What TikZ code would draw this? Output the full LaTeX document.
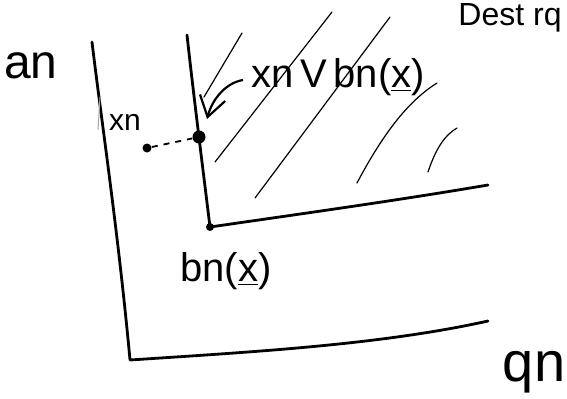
\documentclass[tikz,border=0pt]{standalone}
\usepackage{fontspec}
\setmainfont{Liberation Sans}
\usetikzlibrary{arrows.meta}
\begin{document}
\begin{tikzpicture}[x=0.5pt,y=-0.5pt,
  axis/.style={line width=1.4pt,line cap=round,line join=round},
  hatch/.style={line width=0.6pt,line cap=round},
  dotbig/.style={circle,fill=black,inner sep=0pt,minimum size=6.5pt},
  dotsmall/.style={circle,fill=black,inner sep=0pt,minimum size=4pt},
  lab/.style={inner sep=0pt,font=\fontsize{20}{22}\selectfont}]
\useasboundingbox (0,0) rectangle (567,398);
% outer axes
\coordinate (Otop) at (92,42);
\coordinate (O) at (130,360);
\coordinate (Oright) at (488,321);
\draw[axis] (Otop) .. controls (100,110) and (118,230) .. (O)
  .. controls (250,352) and (380,345) .. (Oright);
% inner corner
\coordinate (Btop) at (187,35);
\coordinate (Bright) at (488,185);
\node[dotsmall] (B) at (210,227) {};
\node[dotbig] (P) at (199,137) {};
\draw[axis] (Btop) .. controls (193,90) and (203,170) .. (B.center)
  .. controls (300,214) and (400,200) .. (Bright);
% hatch lines
\draw[hatch] (204,97) -- (242,33);
\draw[hatch] (215,162) -- (332,12);
\draw[hatch] (255,198) -- (390,17);
\draw[hatch] (357,183) .. controls (385,130) and (410,100) .. (437,83);
\draw[hatch] (428,172) .. controls (436,148) and (445,135) .. (457,128);
% faint mark
\draw[line width=0.5pt,gray!70] (100,97) -- (98,130);
% point x_n and dashed connector
\node[dotsmall,minimum size=4.5pt] (X) at (147,148) {};
\draw[line width=0.9pt,dash pattern=on 3pt off 3pt] (X) -- (P);
% arrow to x_n v b_n(x)
\coordinate (Astart) at (243,80);
\coordinate (Aend) at (207,119);
\draw[line width=1.1pt,-{Straight Barb[length=10pt,width=13pt,line width=1.1pt]}] (Astart) .. controls (225,83) and (212,100) .. (Aend);
% labels
\node[lab,font=\fontsize{24}{26}\selectfont] (an) at (31,66) {an};
\node[lab,font=\fontsize{15}{17}\selectfont] (xn) at (125,122) {xn};
\node[lab] (lab1) at (338,77) {xn\,V\,bn(\underline{x})};
\node[lab] (bn) at (226,271) {bn(\underline{x})};
\node[lab,font=\fontsize{28}{30}\selectfont] (qn) at (534,372) {qn};
\node[lab,font=\fontsize{16}{18}\selectfont,anchor=north east] (dest) at (562,3) {Dest rq};
\end{tikzpicture}
\end{document}
